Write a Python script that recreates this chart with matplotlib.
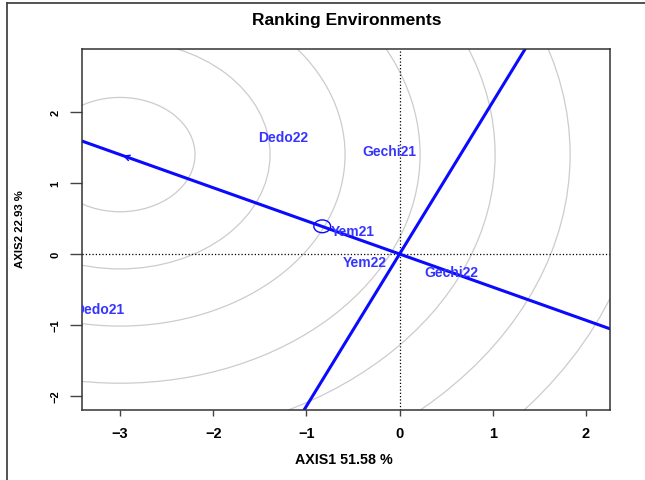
import matplotlib
matplotlib.use("Agg")
import matplotlib.pyplot as plt
from matplotlib.patches import Circle
from matplotlib.lines import Line2D

plt.rcParams['font.family'] = ['Liberation Sans', 'DejaVu Sans']

# environment scores (AXIS1, AXIS2)
env_names = ["Dedo22", "Gechi21", "Yem21", "Yem22", "Gechi22", "Dedo21"]
env_x = [-1.25, -0.11, -0.50, -0.37, 0.55, -3.22]
env_y = [1.65, 1.45, 0.32, -0.11, -0.25, -0.77]

# average environment coordinate and the concentric rings around it
avg_env = (-3.00, 1.40)
ring_radii = [0.805, 1.61, 2.415, 3.22, 4.025, 4.83, 5.635, 6.44]

# small circle marking the mean environment on the AEC axis
mark_env = (-0.83, 0.39)
mark_r = 0.09

x_ticks = [-3, -2, -1, 0, 1, 2]
y_ticks = [-2, -1, 0, 1, 2]

blue = '#0a0aff'
txt_blue = '#3535ff'

fig = plt.figure(figsize=(6.45, 4.81), dpi=100)
ax = fig.add_axes([82 / 645, 1 - 411 / 481, 528 / 645, 361 / 481])
ax.set_xlim(-3.408, 2.258)
ax.set_ylim(-2.197, 2.887)

# rings
for r in ring_radii:
    ax.add_patch(Circle(avg_env, r, fill=False, ec='#cccccc', lw=0.9))

# reference lines through the origin
ax.axhline(0, color='black', ls=':', lw=0.9)
ax.axvline(0, color='black', ls=':', lw=0.9)

# average environment axis and its perpendicular
ax.axline((0, 0), avg_env, color=blue, lw=2.2)
ax.axline((0, 0), slope=-avg_env[0] / avg_env[1], color=blue, lw=2.2)

ax.annotate('', xy=avg_env, xytext=(avg_env[0] + 0.25, avg_env[1] - 0.25 * avg_env[1] / -avg_env[0]),
            arrowprops=dict(arrowstyle='->', color=blue, lw=1.0, mutation_scale=10))

ax.add_patch(Circle(mark_env, mark_r, fill=False, ec=blue, lw=1.0))

for name, x, y in zip(env_names, env_x, env_y):
    ax.text(x, y, name, color=txt_blue, fontsize=10, fontweight='bold',
            ha='center', va='center', clip_on=True)

ax.set_xticks(x_ticks)
ax.set_yticks(y_ticks)
ax.set_xticklabels([f'\u2212{abs(v)}' if v < 0 else str(v) for v in x_ticks], fontweight='bold')
ax.set_yticklabels([f'\u2212{abs(v)}' if v < 0 else str(v) for v in y_ticks], fontweight='bold')
ax.tick_params(axis='x', length=4.5, width=1, color='#444444', pad=7, labelsize=10.5)
ax.tick_params(axis='y', length=8.5, width=1, color='#444444', pad=7, labelsize=8)
plt.setp(ax.get_yticklabels(), rotation=90, va='center')
for s in ax.spines.values():
    s.set_color('#333333')
    s.set_linewidth(1.1)

fig.text(347 / 645, 1 - 20 / 481, 'Ranking Environments', ha='center', va='center',
         fontsize=12.5, fontweight='bold')
fig.text(344 / 645, 1 - 460 / 481, 'AXIS1 51.58 %', ha='center', va='center',
         fontsize=10.3, fontweight='bold')
fig.text(20 / 645, 1 - 229 / 481, 'AXIS2 22.93 %', ha='center', va='center', fontsize=8.2,
         fontweight='bold', rotation=90)

# outer frame edges
fig.add_artist(Line2D([7 / 645, 7 / 645], [0, 1 - 4 / 481], color='#444444', lw=1.3))
fig.add_artist(Line2D([7 / 645, 1], [1 - 4 / 481, 1 - 4 / 481], color='#444444', lw=1.3))

fig.savefig('out.png', dpi=100)
